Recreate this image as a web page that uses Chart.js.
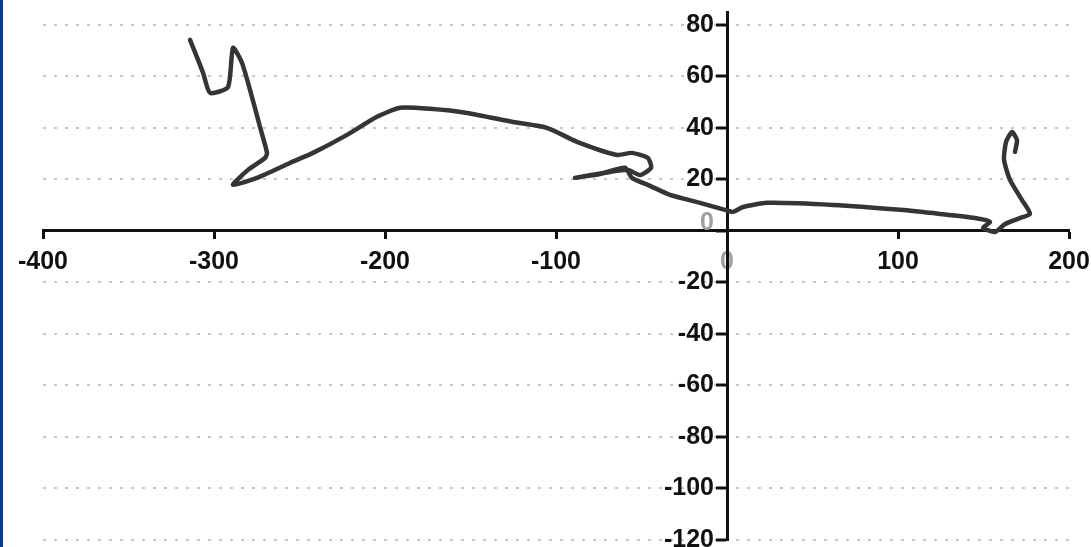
<!DOCTYPE html>
<html>
<head>
<meta charset="utf-8">
<script src="https://cdn.jsdelivr.net/npm/chart.js@4.4.0/dist/chart.umd.min.js"></script>
<style>
  html, body { margin: 0; padding: 0; background: #ffffff; }
  #wrap { position: relative; width: 1091px; height: 547px; }
  #strip { position: absolute; left: 0; top: 0; width: 3px; height: 547px; background: #0b3a9c; }
</style>
</head>
<body>
<div id="wrap">
  <canvas id="c"></canvas>
  <div id="strip"></div>
</div>
<script>
// Path (x, y in data units)
const pathX = [-314.0, -306.4, -302.3, -291.8, -288.9, -283.6, -277.8, -273.1, -269.0, -270.2,
  -280.1, -288.9, -274.9, -255.6, -242.1, -222.2, -204.7, -191.2, -173.7, -152.0,
  -125.1, -105.3, -87.7, -64.3, -55.6, -46.2, -44.4, -50.9, -57.9, -68.4,
  -88.9, -74.3, -59.6, -55.6, -45.0, -33.3, -15.8, -1.2, 3.5, 9.4,
  23.4, 62.0, 101.2, 124.6, 145.0, 153.8, 149.7, 156.7, 162.6, 171.3,
  177.2, 172.5, 165.5, 162.0, 163.2, 166.7, 169.6, 168.4];
const pathY = [74.2, 61.4, 53.6, 55.9, 71.1, 65.2, 52.0, 40.4, 30.3, 28.3,
  23.7, 17.9, 20.6, 26.4, 30.3, 37.3, 44.3, 47.8, 47.4, 45.8,
  42.3, 40.0, 34.6, 29.5, 30.3, 28.3, 24.5, 21.7, 23.7, 22.9,
  20.6, 22.1, 24.5, 20.6, 17.5, 14.0, 10.9, 8.2, 7.4, 9.3,
  10.9, 10.1, 8.2, 6.6, 5.0, 3.5, 1.2, -0.4, 2.7, 5.0,
  6.6, 12.0, 19.8, 27.6, 34.6, 38.4, 35.3, 30.7];
const xTicks = [-400, -300, -200, -100, 0, 100, 200];
const yTicks = [-120, -100, -80, -60, -40, -20, 0, 20, 40, 60, 80];

const points = pathX.map((x, i) => ({ x: x, y: pathY[i] }));

const tickFont = { family: '"Liberation Sans", Arial, sans-serif', size: 25, weight: 'bold' };

function zeroPad(s) { s.paddingTop = 0; s.paddingBottom = 0; s.paddingLeft = 0; s.paddingRight = 0; }

// Shift y tick labels to sit left of the tick marks (the axis crosses the middle of the chart)
const yLabelShift = {
  id: 'yLabelShift',
  afterUpdate(chart) {
    const s = chart.scales.y;
    if (!s || s._shiftPatched) return;
    const orig = s._computeLabelItems;
    s._computeLabelItems = function (ca) {
      const items = orig.call(this, ca);
      items.forEach((it) => {
        const tr = it.options && it.options.translation;
        if (tr) {
          tr[0] -= 13;
          if (it.label === '0') tr[1] -= 8;
        }
      });
      return items;
    };
    s._shiftPatched = true;
  }
};

new Chart(document.getElementById('c'), {
  type: 'scatter',
  data: {
    datasets: [{
      data: points,
      showLine: true,
      borderColor: '#353535',
      borderWidth: 4.5,
      pointRadius: 0,
      tension: 0.2,
      borderCapStyle: 'round',
      borderJoinStyle: 'round'
    }]
  },
  plugins: [yLabelShift],
  options: {
    responsive: true,
    maintainAspectRatio: false,
    animation: false,
    layout: { padding: { left: 43, right: 22, top: 12, bottom: 7 } },
    plugins: { legend: { display: false }, tooltip: { enabled: false } },
    scales: {
      x: {
        type: 'linear',
        position: { y: 0 },
        min: -400,
        max: 200,
        afterFit: zeroPad,
        afterBuildTicks: (s) => { s.ticks = xTicks.map(v => ({ value: v })); },
        ticks: {
          font: tickFont,
          color: (ctx) => ctx.tick && ctx.tick.value === 0 ? '#a0a0a0' : '#111111',
          padding: 9,
          maxRotation: 0,
          autoSkip: false
        },
        grid: {
          drawOnChartArea: false,
          drawTicks: true,
          tickLength: 7,
          tickWidth: 3,
          tickColor: '#111111'
        },
        border: { display: true, color: '#111111', width: 3 }
      },
      y: {
        type: 'linear',
        position: { x: 0 },
        min: -120,
        max: 85,
        afterFit: zeroPad,
        afterBuildTicks: (s) => { s.ticks = yTicks.map(v => ({ value: v })); },
        ticks: {
          font: tickFont,
          color: (ctx) => ctx.tick && ctx.tick.value === 0 ? '#a0a0a0' : '#111111',
          padding: 4,
          autoSkip: false
        },
        grid: {
          drawOnChartArea: true,
          color: (ctx) => ctx.tick && ctx.tick.value === 0 ? 'rgba(0,0,0,0)' : '#c8c8c8',
          lineWidth: 2,
          drawTicks: true,
          tickLength: 10,
          tickWidth: 3,
          tickColor: '#111111',
          tickBorderDash: []
        },
        border: { display: true, color: '#111111', width: 3, dash: [3, 8] }
      }
    }
  }
});
</script>
</body>
</html>
